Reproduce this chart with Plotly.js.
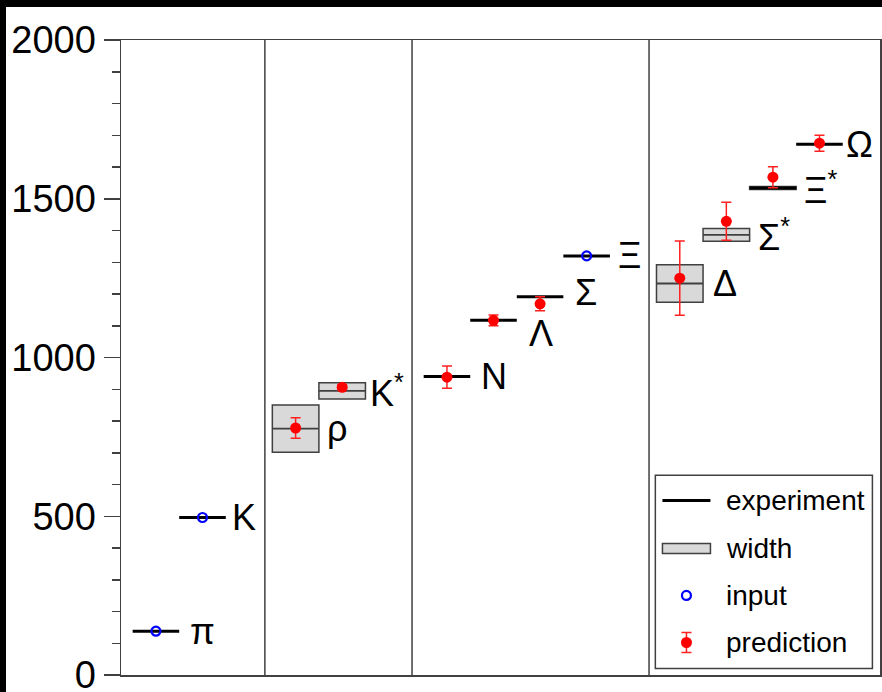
<!DOCTYPE html>
<html>
<head>
<meta charset="utf-8">
<script src="https://cdn.plot.ly/plotly-3.0.1.min.js"></script>
<style>
  html, body { margin: 0; padding: 0; background: #000; width: 882px; height: 692px; overflow: hidden; }
  #chart { position: absolute; left: 6px; top: 7px; width: 876px; height: 685px; background: #fff; }
</style>
</head>
<body>
<div id="chart"></div>
<script>
// Hadron masses (MeV): experiment, resonance width, fit input and model prediction
const names    = ['π', 'K', 'ρ', 'K*', 'N', 'Λ', 'Σ', 'Ξ', 'Δ', 'Σ*', 'Ξ*', 'Ω'];
const labels   = ['π', 'K', 'ρ', 'K<sup>*</sup>', 'N', 'Λ', 'Σ', 'Ξ', 'Δ', 'Σ<sup>*</sup>', 'Ξ<sup>*</sup>', 'Ω'];
const slots    = [0.75, 1.75, 3.75, 4.75, 7, 8, 9, 10, 12, 13, 14, 15];
const expMass  = [138, 496, 776, 895, 940, 1117, 1191, 1320, 1233, 1386, 1534, 1672];

// resonance widths (only the unstable states)
const widthNames = ['ρ', 'K*', 'Δ', 'Σ*', 'Ξ*'];
const widthVals  = [149, 51, 118, 40, 9];

// states used as input to the fit
const inputNames = ['π', 'K', 'Ξ'];

// predicted masses with uncertainties
const predNames = ['ρ', 'K*', 'N', 'Λ', 'Σ', 'Δ', 'Σ*', 'Ξ*', 'Ω'];
const predMass  = [778, 906, 938, 1117, 1169, 1250, 1429, 1568, 1675];
const predErr   = [32, 8, 35, 17, 22, 117, 60, 33, 25];

// multiplet boundaries along the slot axis
const groupBounds = [3.09, 6.25, 11.34];

const yTicks = [0, 500, 1000, 1500, 2000];

// ---------------------------------------------------------------
const FONT = 'Liberation Sans, Arial, Helvetica, sans-serif';
const AXIS = '#404040';
const HALF = 0.5;               // half length of a level segment (slot units)

const slotOf = n => slots[names.indexOf(n)];
const massOf = n => expMass[names.indexOf(n)];

// width boxes as floating bars: base = m - Γ/2, height = Γ
const boxTrace = {
  type: 'bar',
  x: widthNames.map(slotOf),
  y: widthVals,
  base: widthNames.map((n, i) => massOf(n) - widthVals[i] / 2),
  width: 2 * HALF,
  marker: { color: '#d9d9d9', line: { color: AXIS, width: 1.5 } },
  hoverinfo: 'skip',
  showlegend: false
};

// level segments: thin grey centre lines inside broad boxes, black lines elsewhere
function segs(list) {
  const xs = [], ys = [];
  list.forEach(n => {
    const c = slotOf(n), m = massOf(n);
    xs.push(c - HALF, c + HALF, null);
    ys.push(m, m, null);
  });
  return { xs, ys };
}
const broad = widthNames.filter((n, i) => widthVals[i] > 20);
const sharp = names.filter(n => broad.indexOf(n) < 0);
const sBroad = segs(broad), sSharp = segs(sharp);

const centreTrace = {
  type: 'scatter', mode: 'lines', x: sBroad.xs, y: sBroad.ys,
  line: { color: AXIS, width: 1.8 }, hoverinfo: 'skip', showlegend: false
};
const expTrace = {
  type: 'scatter', mode: 'lines', x: sSharp.xs, y: sSharp.ys,
  line: { color: '#000', width: 3 }, hoverinfo: 'skip', showlegend: false
};

const inputTrace = {
  type: 'scatter', mode: 'markers',
  x: inputNames.map(slotOf), y: inputNames.map(massOf),
  marker: { symbol: 'circle-open', size: 9, color: '#0000ff', line: { width: 2.2, color: '#0000ff' } },
  showlegend: false
};

const predTrace = {
  type: 'scatter', mode: 'markers',
  x: predNames.map(slotOf), y: predMass,
  marker: { symbol: 'circle', size: 11, color: '#ff0000' },
  error_y: { type: 'data', array: predErr, visible: true, color: '#ff2020', thickness: 1.5, width: 5 },
  showlegend: false
};

// particle name labels to the right of each level
const labelDy = { 'Λ': -13, 'Σ': 4 };
const labelDx = { 'π': 9, 'K': 4, 'K*': 3, 'N': 9, 'Λ': 10, 'Σ': 10, 'Δ': 8, 'Ω': 1 };
const annotations = names.map((n, i) => ({
  x: slots[i] + HALF, y: expMass[i], xref: 'x', yref: 'y',
  text: labels[i], showarrow: false, xanchor: 'left', yanchor: 'middle',
  xshift: (n in labelDx) ? labelDx[n] : 6, yshift: labelDy[n] || 0,
  font: { family: FONT, size: 36, color: '#000' }
}));

// hand-drawn key in the lower right corner
const shapes = groupBounds.map(b => ({
  type: 'line', xref: 'x', yref: 'paper', x0: b, x1: b, y0: 0, y1: 1,
  line: { color: AXIS, width: 1.5 }
}));

const keyBox = { x0: 0.704, x1: 0.990, y0: 0.0102, y1: 0.3144 };
const keyRows = [0.275, 0.1994, 0.1253, 0.0512];
const keySym = 0.745, keyText = 0.794;
shapes.push({ type: 'rect', xref: 'paper', yref: 'paper', ...keyBox,
  line: { color: AXIS, width: 1.5 }, fillcolor: '#fff' });
function px(type, yRow, x0, x1, y0, y1, extra) {
  return Object.assign({ type, xref: 'paper', yref: 'paper', xsizemode: 'pixel', ysizemode: 'pixel',
    xanchor: keySym, yanchor: yRow, x0, x1, y0, y1 }, extra);
}
shapes.push(px('line', keyRows[0], -24, 24, 0, 0, { line: { color: '#000', width: 3 } }));
shapes.push(px('rect', keyRows[1], -24, 24, -5, 5, { line: { color: AXIS, width: 1.5 }, fillcolor: '#d9d9d9' }));
shapes.push(px('circle', keyRows[2], -4.5, 4.5, -4.5, 4.5, { line: { color: '#0000ff', width: 2.2 } }));
shapes.push(px('line', keyRows[3], 0, 0, -10, 10, { line: { color: '#ff2020', width: 1.5 } }));
shapes.push(px('line', keyRows[3], -5, 5, 10, 10, { line: { color: '#ff2020', width: 1.5 } }));
shapes.push(px('line', keyRows[3], -5, 5, -10, -10, { line: { color: '#ff2020', width: 1.5 } }));
shapes.push(px('circle', keyRows[3], -5.5, 5.5, -5.5, 5.5, { line: { width: 0 }, fillcolor: '#ff0000' }));

['experiment', 'width', 'input', 'prediction'].forEach((t, i) => annotations.push({
  x: keyText, y: keyRows[i], xref: 'paper', yref: 'paper', text: t, showarrow: false,
  xanchor: 'left', yanchor: 'middle', font: { family: FONT, size: 28, color: '#000' }
}));

const layout = {
  width: 876, height: 685,
  margin: { l: 115, r: 2, t: 33, b: 17, pad: 0 },
  paper_bgcolor: '#fff', plot_bgcolor: '#fff',
  showlegend: false,
  barmode: 'overlay',
  font: { family: FONT, color: '#000' },
  xaxis: {
    range: [0, 16.3], showgrid: false, zeroline: false, showticklabels: false, ticks: '',
    showline: true, mirror: true, linecolor: AXIS, linewidth: 1.5, fixedrange: true
  },
  yaxis: {
    range: [0, 2000], tickvals: yTicks, ticktext: yTicks.map(String),
    showgrid: false, zeroline: false, ticks: 'outside', ticklen: 16, tickwidth: 1.5, tickcolor: AXIS,
    minor: { dtick: 100, ticks: 'outside', ticklen: 8, tickwidth: 1.5, tickcolor: AXIS, showgrid: false },
    showline: true, mirror: true, linecolor: AXIS, linewidth: 1.5,
    ticklabeloverflow: 'allow',
    tickfont: { family: FONT, size: 38, color: '#000' }, fixedrange: true
  },
  shapes, annotations
};

Plotly.newPlot('chart', [boxTrace, centreTrace, expTrace, inputTrace, predTrace], layout,
  { displayModeBar: false, staticPlot: true });
</script>
</body>
</html>
